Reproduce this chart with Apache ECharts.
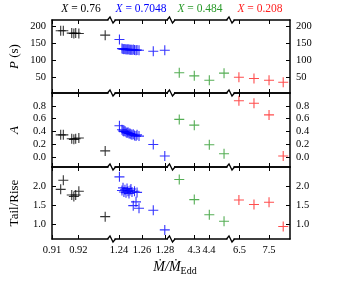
<!DOCTYPE html>
<html><head><meta charset="utf-8">
<script src="https://cdn.jsdelivr.net/npm/echarts@6/dist/echarts.min.js"></script>
<style>html,body{margin:0;padding:0;background:#fff}#c{width:341px;height:285px}</style>
</head><body><div id="c"></div><script>
// ---- data ----
const blackMdot = [0.9133, 0.9143, 0.9175, 0.9183, 0.9190, 0.9202, 0.9302];
const blackP    = [188, 188, 181, 180, 181, 180, 175];
const blackA    = [0.35, 0.35, 0.29, 0.28, 0.29, 0.30, 0.10];
const blackTR   = [1.91, 2.15, 1.76, 1.72, 1.76, 1.86, 1.19];

const blueMdot = [1.2404, 1.2426, 1.2435, 1.2443, 1.2452, 1.2461, 1.2470, 1.2478, 1.2487, 1.2496, 1.2504, 1.2513, 1.2524, 1.2535, 1.2548, 1.2557, 1.2574, 1.2698, 1.2798];
const blueP    = [162, 135, 134, 133, 134, 132, 133, 132, 133, 131, 132, 131, 132, 131, 130, 131, 130, 127, 130];
const blueA    = [0.49, 0.43, 0.41, 0.40, 0.41, 0.39, 0.38, 0.39, 0.37, 0.37, 0.36, 0.35, 0.36, 0.34, 0.33, 0.35, 0.33, 0.20, 0.02];
const blueTR   = [2.24, 1.88, 1.95, 1.84, 1.90, 1.82, 1.93, 1.86, 1.80, 1.88, 1.92, 1.84, 1.48, 1.86, 1.58, 1.83, 1.41, 1.36, 0.84];

const greenMdot = [4.202, 4.302, 4.402, 4.500];
const greenP    = [63, 54, 41, 62];
const greenA    = [0.59, 0.50, 0.195, 0.055];
const greenTR   = [2.17, 1.64, 1.24, 1.07];

const redMdot = [6.48, 6.99, 7.50, 7.98];
const redP    = [50, 46, 41, 35];
const redA    = [0.88, 0.84, 0.66, 0.02];
const redTR   = [1.63, 1.51, 1.57, 0.93];

const groupLabels = ['0.76', '0.7048', '0.484', '0.208'];
const panelNames = ['P (s)', 'A', 'Tail/Rise'];

const segRanges = [[0.91, 0.9326], [1.2335, 1.2852], [4.147, 4.543], [6.195, 8.21]];
const xTickValues = [[0.91, 0.92], [1.24, 1.26, 1.28], [4.3, 4.4], [6.5, 7.5]];
const xTickLabels = [['0.91', '0.92'], ['1.24', '1.26', '1.28'], ['4.3', '4.4'], ['6.5', '7.5']];
const yRanges = [[3, 220], [-0.15, 1.0], [0.6, 2.5]];
const yTickValues = [[50, 100, 150, 200], [0, 0.2, 0.4, 0.6, 0.8], [1.0, 1.5, 2.0]];
const yTickLabels = [['50', '100', '150', '200'], ['0.0', '0.2', '0.4', '0.6', '0.8'], ['1.0', '1.5', '2.0']];

// ---- layout / style ----
const colors = ['#000000', '#0000ff', '#2a9a2a', '#ff2020'];
const groups = [
  [blackMdot, [blackP, blackA, blackTR]],
  [blueMdot, [blueP, blueA, blueTR]],
  [greenMdot, [greenP, greenA, greenTR]],
  [redMdot, [redP, redA, redTR]]
];
const FONT = 'Liberation Serif';
const segLeft = [52, 111.5, 171, 230.5];
const segW = 59.5;
const panTop = [20, 93, 167];
const panH = [73, 74, 72];
const lineStyle = { color: '#000', width: 1.5 };

function labelFor(vals, labs) {
  return function (v) {
    for (let i = 0; i < vals.length; i++) if (Math.abs(vals[i] - v) < 1e-6) return labs[i];
    return '';
  };
}

const grid = [], xAxis = [], yAxis = [], series = [];
for (let p = 0; p < 3; p++) {
  for (let s = 0; s < 4; s++) {
    const g = p * 4 + s;
    grid.push({ left: segLeft[s], top: panTop[p], width: segW, height: panH[p], containLabel: false });
    ['bottom', 'top'].forEach(function (pos) {
      xAxis.push({
        type: 'value', gridIndex: g, position: pos,
        min: segRanges[s][0], max: segRanges[s][1],
        axisLine: { show: true, onZero: false, lineStyle: lineStyle },
        axisTick: { show: true, inside: true, length: 4, customValues: xTickValues[s], lineStyle: { color: '#000', width: 1 } },
        axisLabel: {
          show: (pos === 'bottom' && p === 2), customValues: xTickValues[s],
          formatter: labelFor(xTickValues[s], xTickLabels[s]),
          fontFamily: FONT, fontSize: 10.5, color: '#000', margin: 6
        },
        splitLine: { show: false }
      });
    });
    const side = s === 0 ? 'left' : (s === 3 ? 'right' : null);
    yAxis.push({
      type: 'value', gridIndex: g, position: side || 'left', show: !!side,
      min: yRanges[p][0], max: yRanges[p][1],
      axisLine: { show: true, onZero: false, lineStyle: lineStyle },
      axisTick: { show: true, inside: true, length: 4, customValues: yTickValues[p], lineStyle: { color: '#000', width: 1 } },
      axisLabel: {
        show: true, customValues: yTickValues[p],
        formatter: labelFor(yTickValues[p], yTickLabels[p]),
        fontFamily: FONT, fontSize: 10.5, color: '#000', margin: 6
      },
      splitLine: { show: false }
    });
    const xs = groups[s][0], ys = groups[s][1][p];
    series.push({
      type: 'scatter', xAxisIndex: 2 * g, yAxisIndex: g,
      symbol: 'path://M5,0L5,10M0,5L10,5', symbolSize: 10,
      itemStyle: { color: 'none', borderColor: colors[s], borderWidth: 1.1 },
      emphasis: { disabled: true },
      clip: false,
      data: xs.map(function (x, i) { return [x, ys[i]]; })
    });
  }
}

const graphic = [];
// group labels at top
const titleX = [81, 141, 200, 260];
for (let s = 0; s < 4; s++) {
  graphic.push({
    type: 'text', x: titleX[s], y: 9, z: 100,
    style: {
      text: '{i|X}{n| = ' + groupLabels[s] + '}', align: 'center', verticalAlign: 'middle',
      rich: {
        i: { fontFamily: FONT, fontStyle: 'italic', fontSize: 11.5, fill: colors[s] },
        n: { fontFamily: FONT, fontSize: 11.5, fill: colors[s] }
      }
    }
  });
}
// y names
for (let p = 0; p < 3; p++) {
  const italic = p === 0 ? '{i|P}{n| (s)}' : (p === 1 ? '{i|A}' : '{n|Tail/Rise}');
  graphic.push({
    type: 'text', x: 15, y: panTop[p] + panH[p] / 2, rotation: Math.PI / 2, z: 100,
    style: {
      text: italic, align: 'center', verticalAlign: 'middle',
      rich: {
        i: { fontFamily: FONT, fontStyle: 'italic', fontSize: 13, fill: '#000' },
        n: { fontFamily: FONT, fontSize: 13, fill: '#000' }
      }
    }
  });
}
// x name
graphic.push({
  type: 'text', x: 175, y: 267, z: 100,
  style: {
    text: '{i|\u1E40/\u1E40}{s|Edd}', align: 'center', verticalAlign: 'middle',
    rich: {
      i: { fontFamily: FONT, fontStyle: 'italic', fontSize: 14, fill: '#000' },
      s: { fontFamily: FONT, fontSize: 10, fill: '#000', padding: [8, 0, 0, 0] }
    }
  }
});
// axis break marks
const breakX = [111.5, 171, 230.5];
const lineY = [20, 93, 167, 239];
breakX.forEach(function (bx) {
  lineY.forEach(function (ly) {
    graphic.push({ type: 'rect', z: 100, shape: { x: bx - 3, y: ly - 2, width: 6, height: 4 }, style: { fill: '#fff' } });
    graphic.push({
      type: 'polyline', z: 101,
      shape: { points: [[bx - 4, ly], [bx - 1.5, ly - 3], [bx + 1.5, ly + 3], [bx + 4, ly]] },
      style: { stroke: '#000', lineWidth: 1.3, fill: 'none' }
    });
  });
});

const chart = echarts.init(document.getElementById('c'), null, { renderer: 'canvas' });
chart.setOption({
  animation: false,
  backgroundColor: '#fff',
  grid: grid, xAxis: xAxis, yAxis: yAxis, series: series, graphic: graphic
});
</script></body></html>
